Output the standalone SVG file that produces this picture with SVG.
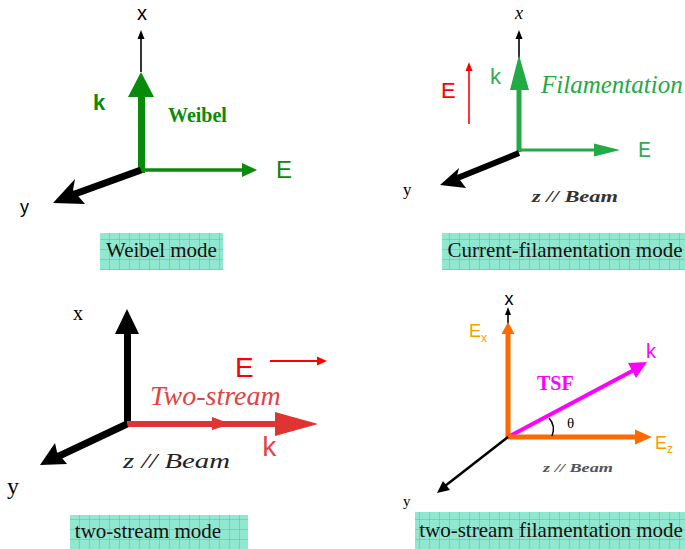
<svg xmlns="http://www.w3.org/2000/svg" width="685" height="549" viewBox="0 0 685 549">
<style>
.sans{font-family:"Liberation Sans",Arial,sans-serif}
.serif{font-family:"Liberation Serif","Times New Roman",serif}
.mono{font-family:"Liberation Mono","Courier New",monospace}
.cap{font-family:"Liberation Serif","Times New Roman",serif;font-size:21px;fill:#111}
.beam{font-family:"Liberation Serif","Times New Roman",serif;font-style:italic;font-weight:bold}
</style>
<defs>
<pattern id="grid" width="10" height="10" patternUnits="userSpaceOnUse">
<rect width="10" height="10" fill="#8fe8cf"/>
<path d="M10,0V10M0,10H10" stroke="#2fd3a3" stroke-width="1" fill="none"/>
</pattern>
</defs>
<rect width="685" height="549" fill="#fff"/>

<g id="weibel">
<g id="weibel-arrows">
<line x1="141" y1="72" x2="141" y2="36" stroke="#000" stroke-width="1.6"/>
<polygon points="141,30 137.5,39 144.5,39" fill="#000"/>
<rect x="138" y="95" width="7" height="78" fill="#0a8a0a"/>
<polygon points="141,72 128,97 154,97" fill="#0a8a0a"/>
<line x1="141" y1="170" x2="245" y2="170" stroke="#0a8a0a" stroke-width="3.5"/>
<polygon points="257,170 242,163 242,177" fill="#0a8a0a"/>
<line x1="141" y1="170" x2="72" y2="195" stroke="#000" stroke-width="7"/>
<polygon points="53,203 75,179 73,190 85,204" fill="#000"/>
</g>
<text x="142" y="20" class="sans" font-size="20" text-anchor="middle">x</text>
<text x="93" y="110" class="sans" font-size="22" font-weight="bold" fill="#0a8a0a">k</text>
<text x="168" y="122" class="serif" font-size="20" font-weight="bold" fill="#0a8a0a">Weibel</text>
<text x="276" y="178" class="sans" font-size="24" fill="#0a8a0a">E</text>
<text x="20" y="213" class="sans" font-size="18">y</text>
<rect x="100" y="233" width="123" height="37" fill="url(#grid)"/>
<text x="161.5" y="257" class="cap" text-anchor="middle">Weibel mode</text>
</g>

<g id="current-filamentation">
<g id="cf-arrows">
<line x1="519" y1="58" x2="519" y2="36" stroke="#000" stroke-width="1.6"/>
<polygon points="519,30 515.5,39 522.5,39" fill="#000"/>
<rect x="516.5" y="86" width="5" height="66" fill="#22aa44"/>
<polygon points="519,55 510,90 529,90" fill="#22aa44"/>
<line x1="469" y1="124" x2="469" y2="68" stroke="#ff0000" stroke-width="1.6"/>
<polygon points="469,62 465.5,71 472.5,71" fill="#ff0000"/>
<line x1="519" y1="150" x2="596" y2="150" stroke="#22aa44" stroke-width="3"/>
<polygon points="620,150 594,143.5 594,156.5" fill="#22aa44"/>
<line x1="519" y1="153" x2="455" y2="179" stroke="#000" stroke-width="6"/>
<polygon points="440,185 459,168 457,176 466,188" fill="#000"/>
</g>
<text x="519" y="19" class="serif" font-size="18" font-style="italic" text-anchor="middle">x</text>
<text x="489" y="84" class="mono" font-size="22" fill="#33aa55">k</text>
<text x="541" y="93" class="serif" font-size="25" font-style="italic" fill="#22aa44">Filamentation</text>
<text x="441" y="98" class="sans" font-size="22" fill="#ff0000">E</text>
<text x="638" y="157" class="mono" font-size="22" fill="#33aa55">E</text>
<text x="403" y="195" class="serif" font-size="17">y</text>
<text x="532" y="202" class="beam" font-size="16" fill="#333" textLength="86" lengthAdjust="spacingAndGlyphs">z // Beam</text>
<rect x="442" y="233" width="243" height="37" fill="url(#grid)"/>
<text x="565" y="257" class="cap" text-anchor="middle">Current-filamentation mode</text>
</g>

<g id="two-stream">
<g id="ts-arrows">
<rect x="124" y="330" width="7" height="96" fill="#000"/>
<polygon points="127,309 115,334 139,334" fill="#000"/>
<line x1="270" y1="361" x2="318" y2="361" stroke="#ff0000" stroke-width="1.8"/>
<polygon points="327,361 317,356.5 317,365.5" fill="#ff0000"/>
<line x1="127" y1="424" x2="280" y2="424" stroke="#e03333" stroke-width="6"/>
<polygon points="231,424 212,417 212,430" fill="#e03333"/>
<polygon points="318,424 275,412 275,436" fill="#e03333"/>
<line x1="127" y1="424" x2="57" y2="457" stroke="#000" stroke-width="7"/>
<polygon points="40,465 55,443 57,452 67,464" fill="#000"/>
</g>
<text x="73" y="320" class="serif" font-size="20">x</text>
<text x="235" y="377" class="sans" font-size="28" fill="#ff0000">E</text>
<text x="150" y="405" class="serif" font-size="28" font-style="italic" fill="#e04444">Two-stream</text>
<text x="261" y="456" class="mono" font-size="28" fill="#e04444">k</text>
<text x="123" y="468" class="serif" font-style="italic" font-size="20" fill="#222" textLength="107" lengthAdjust="spacingAndGlyphs">z // Beam</text>
<text x="7" y="494" class="serif" font-size="24">y</text>
<rect x="70" y="515" width="178" height="34" fill="url(#grid)"/>
<text x="148" y="538" class="cap" text-anchor="middle">two-stream mode</text>
</g>

<g id="two-stream-filamentation">
<g id="tsf-arrows">
<line x1="508" y1="333" x2="508" y2="313" stroke="#000" stroke-width="1.6"/>
<polygon points="508,307 505,315 511,315" fill="#000"/>
<rect x="505.5" y="332" width="5" height="107" fill="#ff6a00"/>
<polygon points="508,322 501.5,334 514.5,334" fill="#ff6a00"/>
<line x1="508" y1="437" x2="634" y2="370" stroke="#ff00ff" stroke-width="4"/>
<polygon points="647,362 636,378 628,363" fill="#ff00ff"/>
<line x1="508" y1="437" x2="640" y2="437" stroke="#ff6a00" stroke-width="5"/>
<polygon points="652,437 635,429.5 635,444.5" fill="#ff6a00"/>
<line x1="508" y1="437" x2="445" y2="486" stroke="#000" stroke-width="2.5"/>
<polygon points="437,493 443,481 450,490" fill="#000"/>
<path d="M549,418 Q556,426 552,436" fill="none" stroke="#000" stroke-width="1.5"/>
</g>
<text x="509" y="305" class="sans" font-size="18" text-anchor="middle">x</text>
<text x="469" y="337" class="sans" font-size="18" fill="#ff9900">E</text>
<text x="481" y="342" class="sans" font-size="12" fill="#ff9900">x</text>
<text x="646" y="358" class="sans" font-size="20" fill="#ff00ff">k</text>
<text x="537" y="390" class="serif" font-size="20" font-weight="bold" fill="#ff00ff">TSF</text>
<text x="567" y="428" class="serif" font-size="15">θ</text>
<text x="655" y="449" class="sans" font-size="18" fill="#ff9900">E</text>
<text x="667" y="453" class="sans" font-size="12" fill="#ff9900">z</text>
<text x="543" y="472" class="beam" font-size="13" fill="#555" textLength="70" lengthAdjust="spacingAndGlyphs">z // Beam</text>
<text x="403" y="506" class="serif" font-size="15">y</text>
<rect x="415" y="512" width="270" height="37" fill="url(#grid)"/>
<text x="551" y="537" class="cap" text-anchor="middle">two-stream filamentation mode</text>
</g>
</svg>
